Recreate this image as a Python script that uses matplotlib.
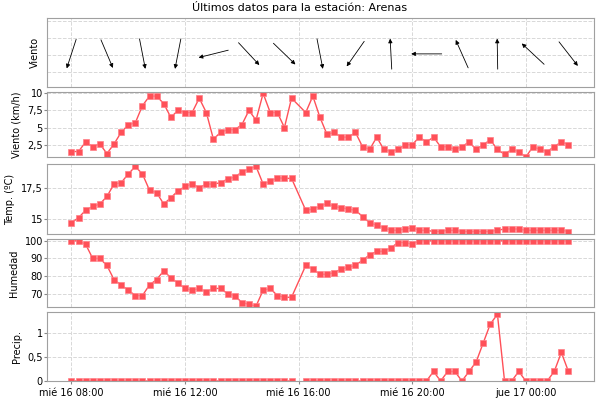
import numpy as np
import matplotlib.pyplot as plt
from matplotlib.transforms import offset_copy

nan = np.nan
# hours since mié 16 08:00, one reading every 15 min (16:00 missing)
hours = np.arange(71) * 0.25

wind = [1.5, 1.5, 2.9, 2.2, 2.6, 1.2, 2.6, 4.3, 5.4, 5.7, 8.2, 9.6, 9.6, 8.5, 6.5, 7.5, 7.2, 7.2,
        9.3, 7.2, 3.3, 4.3, 4.7, 4.7, 5.4, 7.5, 6.1, 10.0, 7.2, 7.2, 5.0, 9.3, nan, 7.2, 9.6, 6.5,
        4.0, 4.3, 3.6, 3.6, 4.3, 2.2, 1.8, 3.6, 1.8, 1.5, 1.8, 2.5, 2.5, 3.6, 2.9, 3.6, 2.2, 2.2,
        1.8, 2.2, 2.9, 1.8, 2.5, 3.2, 1.8, 1.1, 1.8, 1.5, 0.7, 2.2, 1.8, 1.5, 2.2, 2.9, 2.5]
temp = [14.7, 15.1, 15.7, 16.0, 16.2, 16.8, 17.8, 17.9, 18.6, 19.2, 18.6, 17.3, 17.1, 16.2, 16.7,
        17.25, 17.6, 17.8, 17.5, 17.8, 17.8, 17.9, 18.2, 18.35, 18.75, 19.0, 19.2, 17.8, 18.0,
        18.3, 18.25, 18.25, nan, 15.7, 15.8, 16.0, 16.25, 16.0, 15.9, 15.8, 15.7, 15.2, 14.7, 14.5,
        14.3, 14.1, 14.1, 14.2, 14.3, 14.1, 14.1, 14.0, 14.0, 14.1, 14.1, 14.0, 14.0, 14.0, 14.0,
        14.0, 14.1, 14.2, 14.2, 14.2, 14.1, 14.1, 14.1, 14.1, 14.1, 14.1, 14.0]
hum = [100, 100, 98, 90, 90, 86, 78, 75, 72, 69, 69, 75, 78, 83, 79, 76, 73, 72, 73, 71, 73, 73,
       70, 69, 65, 64, 63, 72, 73, 69, 68, 68, nan, 86, 84, 81, 81, 82, 84, 85, 86, 89, 92, 94, 94,
       96, 99, 99, 98] + [100] * 22
precip = [0] * 32 + [nan] + [0] * 18 + [0.2, 0, 0.2, 0.2, 0, 0.2, 0.4, 0.8, 1.2, 1.4, 0, 0, 0.2,
                                      0, 0, 0, 0, 0.2, 0.6, 0.2]

# wind direction arrows, every 5 readings, degrees clockwise from north (direction of arrow)
arrow_idx = list(range(0, 71, 5))
arrow_dir = [198, 157, 169, 191, 256, 137, 134, 169, 215, 357, 270, 336, 359, 313, 142]

xticks = [0, 4, 8, 12, 16]
xlabels = ['mié 16 08:00', 'mié 16 12:00', 'mié 16 16:00', 'mié 16 20:00', 'jue 17 00:00']

red = '#ff5058'
fig = plt.figure(figsize=(6, 4), dpi=100)
plt.rcParams['font.size'] = 7

# panel extents in pixels (top, bottom)
spans = [(18, 87), (92, 157), (164, 234), (239, 307), (312, 381)]
axes = []
for top, bot in spans:
    ax = fig.add_axes([47 / 600, 1 - bot / 400, 547 / 600, (bot - top) / 400])
    ax.set_xlim(-0.86, 18.4)
    ax.set_xticks(xticks)
    ax.grid(True, color='#d8d8d8', linestyle='--', linewidth=0.7)
    ax.set_axisbelow(True)
    for s in ax.spines.values():
        s.set_color('#a0a0a0')
    ax.tick_params(length=2, color='#888888', pad=1)
    if top != 312:
        ax.set_xticklabels([])
        ax.tick_params(axis='x', length=0)
    else:
        ax.set_xticklabels(xlabels)
        ax.tick_params(axis='x', pad=3)
    axes.append(ax)

fig.text(0.5, 1 - 7 / 400, 'Últimos datos para la estación: Arenas', ha='center', va='center',
         fontsize=8)

# wind direction
ax = axes[0]
ax.set_ylim(0, 1)
ax.set_yticks([0.22, 0.46, 0.71, 0.95])
ax.set_yticklabels([])
ax.tick_params(axis='y', length=0)
ax.set_ylabel('Viento')
L = 22  # arrow length in points
for i, d in zip(arrow_idx, arrow_dir):
    ux, uy = np.sin(np.radians(d)), np.cos(np.radians(d))
    tr = offset_copy(ax.get_xaxis_transform(), fig=fig, x=ux * L / 2, y=uy * L / 2, units='points')
    ax.annotate('', xy=(hours[i], 0.48), xycoords=tr,
                xytext=(-ux * L, -uy * L), textcoords='offset points',
                arrowprops=dict(arrowstyle='-|>', color='black', lw=0.6,
                                mutation_scale=6, shrinkA=0, shrinkB=0))


def series(ax, y, connect=True):
    y = np.array(y, dtype=float)
    if connect:
        m = ~np.isnan(y)
        ax.plot(hours[m], y[m], color=red, lw=1, marker='s', ms=5, mec='#ff8088', mew=0.5)
    else:
        ax.plot(hours, y, color=red, lw=1, marker='s', ms=5, mec='#ff8088', mew=0.5)


def comma(ax, ticks, fmt):
    ax.set_yticks(ticks)
    ax.set_yticklabels([fmt.format(t).replace('.', ',') for t in ticks])


ax = axes[1]
series(ax, wind)
ax.set_ylim(0.7, 10.2)
comma(ax, [2.5, 5, 7.5, 10], '{:g}')
ax.set_ylabel('Viento (km/h)')

ax = axes[2]
series(ax, temp)
ax.set_ylim(13.8, 19.4)
comma(ax, [15, 17.5], '{:g}')
ax.set_ylabel('Temp. (ºC)')

ax = axes[3]
series(ax, hum)
ax.set_ylim(62.5, 101)
ax.set_yticks([70, 80, 90, 100])
ax.set_ylabel('Humedad')

ax = axes[4]
series(ax, precip, connect=False)
ax.set_ylim(0, 1.45)
comma(ax, [0, 0.5, 1], '{:g}')
ax.set_ylabel('Precip.')

fig.savefig('out.png', dpi=100)
